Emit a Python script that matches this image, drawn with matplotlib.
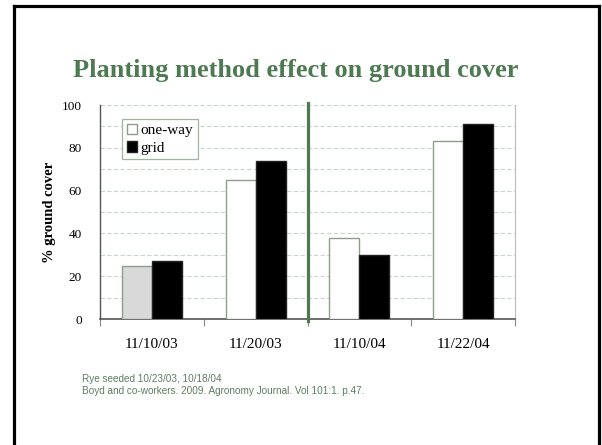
import matplotlib
matplotlib.use("Agg")
import matplotlib.pyplot as plt
from matplotlib.lines import Line2D
import numpy as np

# Ground cover (%) by sampling date and planting method
dates = ["11/10/03", "11/20/03", "11/10/04", "11/22/04"]
one_way = [25, 65, 38, 83]
grid = [27, 74, 30, 91]
series_names = ["one-way", "grid"]
y_ticks = [0, 20, 40, 60, 80, 100]

title = "Planting method effect on ground cover"
y_label = "% ground cover"
notes = ["Rye seeded 10/23/03, 10/18/04",
         "Boyd and co-workers. 2009. Agronomy Journal. Vol 101:1. p.47."]

GREEN = "#4E7A52"
W, H = 602, 445

fig = plt.figure(figsize=(W / 100, H / 100), dpi=100)
fig.patch.set_facecolor("white")


def fx(px):
    return px / W


def fy(py):
    return 1 - py / H


# slide frame (left, top, right edges)
frame_kw = dict(color="black", lw=2.3, transform=fig.transFigure, solid_capstyle="projecting")
fig.add_artist(Line2D([fx(13.5), fx(13.5)], [fy(445), fy(6)], **frame_kw))
fig.add_artist(Line2D([fx(13.5), fx(599)], [fy(6), fy(6)], **frame_kw))
fig.add_artist(Line2D([fx(599), fx(599)], [fy(6), fy(445)], **frame_kw))

ax = fig.add_axes([fx(100), fy(319), fx(515) - fx(100), fy(105) - fy(319)])

x = np.arange(len(dates)) + 0.5
bw = 0.29
face_one = ["#D9D9D9"] + ["white"] * (len(dates) - 1)
ax.bar(x - bw / 2, one_way, bw, color=face_one, edgecolor="#8C9E8C", lw=1.0,
       label=series_names[0], zorder=3)
ax.bar(x + bw / 2, grid, bw, color="black", edgecolor="#222222", lw=1.0,
       label=series_names[1], zorder=3)

ax.set_xlim(0, len(dates))
ax.set_ylim(0, 100)

# horizontal grid every 10
for v in range(10, 101, 10):
    ax.axhline(v, color="#C5D8C5", lw=0.8, ls=(0, (4, 2)), zorder=1)

# dividing line between seasons
ax.axvline(2, ymin=-0.008, ymax=0.433, color=GREEN, lw=2.3, zorder=4, clip_on=False)
ax.axvline(2, ymin=0.441, ymax=1.01, color=GREEN, lw=2.3, zorder=4, clip_on=False)

ax.spines["top"].set_visible(False)
ax.spines["right"].set_color("#BBBBBB")
ax.spines["right"].set_linewidth(0.8)
ax.spines["left"].set_color("#555555")
ax.spines["bottom"].set_color("#555555")
ax.spines["left"].set_linewidth(1.0)
ax.spines["bottom"].set_linewidth(1.2)

serif = ["Liberation Serif", "DejaVu Serif"]

ax.set_yticks(y_ticks)
ax.set_yticklabels([str(v) for v in y_ticks], family=serif, fontsize=9.5)
ax.tick_params(axis="y", length=0, pad=13)

ax.set_xticks(np.arange(len(dates) + 1))
ax.set_xticklabels([])
ax.tick_params(axis="x", which="major", length=5, color="#888888", width=0.8)
ax.set_xticks(x, minor=True)
ax.set_xticklabels(dates, minor=True, family=serif, fontsize=11)
ax.tick_params(axis="x", which="minor", length=0, pad=14)

ax.set_ylabel(y_label, family=serif, fontsize=10.5, fontweight="bold", labelpad=4)

leg = ax.legend(loc="upper left", bbox_to_anchor=(fx(122), fy(119)),
                bbox_transform=fig.transFigure, prop={"family": serif, "size": 11},
                fancybox=False, framealpha=1, edgecolor="#9FB59F",
                handlelength=0.7, handleheight=0.7, handletextpad=0.2,
                borderpad=0.3, labelspacing=0.25, borderaxespad=0)
leg.get_frame().set_linewidth(0.9)
leg.legend_handles[0].set_facecolor("white")
leg.legend_handles[0].set_edgecolor("#8C9E8C")

fig.text(fx(73), fy(77), title, family=serif, fontsize=19, fontweight="bold",
         color=GREEN, ha="left", va="baseline")

sans = ["Liberation Sans", "DejaVu Sans"]
fig.text(fx(82), fy(382), notes[0], family=sans, fontsize=7.2, color="#5E7E60",
         ha="left", va="baseline")
fig.text(fx(82), fy(394), notes[1], family=sans, fontsize=7.2, color="#5E7E60",
         ha="left", va="baseline")

fig.savefig("out.png", dpi=100, facecolor="white")
